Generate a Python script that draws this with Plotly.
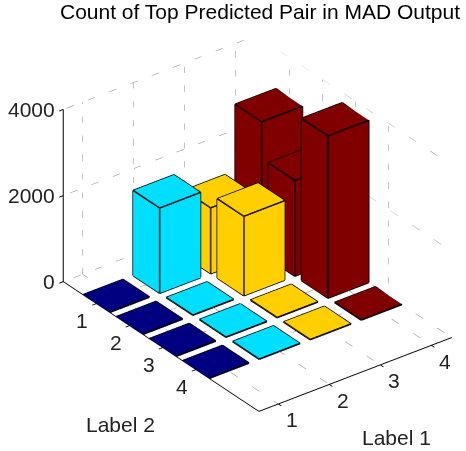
import plotly.graph_objects as go

label1 = [1, 2, 3, 4]
label2 = [1, 2, 3, 4]
# counts[label2 index][label1 index]
counts_l2_1 = [5, 1980, 1530, 3075]
counts_l2_2 = [5, 5, 1845, 2225]
counts_l2_3 = [5, 5, 5, 3770]
counts_l2_4 = [5, 5, 5, 5]
counts = [counts_l2_1, counts_l2_2, counts_l2_3, counts_l2_4]
colors = ["#000080", "#00DFFF", "#FFCF00", "#800000"]
z_ticks = [0, 2000, 4000]
x_range = [0.62, 4.4]
y_range = [5.9, 0]
z_range = [0, 4000]
W = 0.4
TF = dict(family="Liberation Sans", size=21, color="#222")

fig = go.Figure()
ex, ey, ez = [], [], []
for j, row in zip(label2, counts):
    for i, h in zip(label1, row):
        x0, x1, y0, y1 = i - W, i + W, j - W, j + W
        xs = [x0, x1, x1, x0, x0, x1, x1, x0]
        ys = [y0, y0, y1, y1, y0, y0, y1, y1]
        zs = [0, 0, 0, 0, h, h, h, h]
        fig.add_trace(go.Mesh3d(
            x=xs, y=ys, z=zs,
            i=[0, 0, 4, 4, 0, 0, 1, 1, 2, 2, 3, 3],
            j=[1, 2, 5, 6, 1, 5, 2, 6, 3, 7, 0, 4],
            k=[2, 3, 6, 7, 5, 4, 6, 5, 7, 6, 4, 7],
            color=colors[i - 1], flatshading=True, showscale=False,
            lighting=dict(ambient=1, diffuse=0, specular=0, fresnel=0),
            hoverinfo="skip"))
        for a, b in [(0,1),(1,2),(2,3),(3,0),(4,5),(5,6),(6,7),(7,4),(0,4),(1,5),(2,6),(3,7)]:
            ex += [xs[a], xs[b], None]
            ey += [ys[a], ys[b], None]
            ez += [zs[a], zs[b], None]
fig.add_trace(go.Scatter3d(x=ex, y=ey, z=ez, mode="lines",
                           line=dict(color="black", width=3), hoverinfo="skip"))

# dotted grid on the two back walls and floor
gx, gy, gz = [], [], []
def seg(p, q):
    gx.extend([p[0], q[0], None]); gy.extend([p[1], q[1], None]); gz.extend([p[2], q[2], None])
xa, xb = x_range
yb, ya = y_range
for t in label1:
    seg((t, ya, 0), (t, ya, 4000))
    seg((t, ya, 0), (t, yb, 0))
for t in label2:
    seg((xb, t, 0), (xb, t, 4000))
    seg((xa, t, 0), (xb, t, 0))
for z in z_ticks:
    seg((xa, ya, z), (xb, ya, z))
    seg((xb, ya, z), (xb, yb, z))
fig.add_trace(go.Scatter3d(x=gx, y=gy, z=gz, mode="lines",
                           line=dict(color="#8a8a8a", width=1, dash="dot"), hoverinfo="skip"))

ax_common = dict(showgrid=False, zeroline=False, showbackground=False, showline=True,
                 linecolor="black", linewidth=2, ticks="outside", ticklen=5, tickcolor="black",
                 tickwidth=2, showticklabels=False, title=dict(text=""), showspikes=False)

tick_notes = []
for t in z_ticks:
    tick_notes.append(dict(x=xa, y=ya, z=t, text=str(t), showarrow=False, xanchor="right",
                           yanchor="middle", xshift=-6, font=TF))
for t in label2:
    tick_notes.append(dict(x=xa, y=t, z=0, text=str(t), showarrow=False, xanchor="center",
                           yanchor="middle", xshift=-14, yshift=-17, font=TF))
for t in label1:
    tick_notes.append(dict(x=t, y=yb, z=0, text=str(t), showarrow=False, xanchor="center",
                           yanchor="middle", xshift=14, yshift=-16, font=TF))

fig.update_layout(
    width=466, height=451, showlegend=False,
    margin=dict(l=0, r=0, t=0, b=0), paper_bgcolor="white",
    title=dict(text="Count of Top Predicted Pair in MAD Output", x=60/466, xanchor="left",
               y=1-12/451, yanchor="middle",
               font=dict(family="Liberation Sans", size=21, color="black")),
    scene=dict(
        domain=dict(x=[0.105, 1], y=[0.009, 1]),
        aspectmode="manual", aspectratio=dict(x=1.0836, y=1.4466, z=0.892),
        camera=dict(projection=dict(type="orthographic"),
                    eye=dict(x=-0.5224*2, y=-0.6873*2, z=0.504*2),
                    up=dict(x=0, y=0, z=1), center=dict(x=0, y=0, z=0)),
        xaxis=dict(range=x_range, tickvals=label1, **ax_common),
        yaxis=dict(range=y_range, tickvals=label2, **ax_common),
        zaxis=dict(range=z_range, tickvals=z_ticks, **ax_common),
        annotations=tick_notes,
    ),
    annotations=[
        dict(text="Label 2", x=120/466, y=1-424/451, xref="paper", yref="paper", showarrow=False,
             xanchor="center", yanchor="middle", font=dict(family="Liberation Sans", size=21, color="#222")),
        dict(text="Label 1", x=396/466, y=1-437/451, xref="paper", yref="paper", showarrow=False,
             xanchor="center", yanchor="middle", font=dict(family="Liberation Sans", size=21, color="#222")),
    ],
)
fig.write_html("out.html", config=dict(displayModeBar=False),
               post_script="document.body.style.margin='0';document.body.style.overflow='hidden';")
